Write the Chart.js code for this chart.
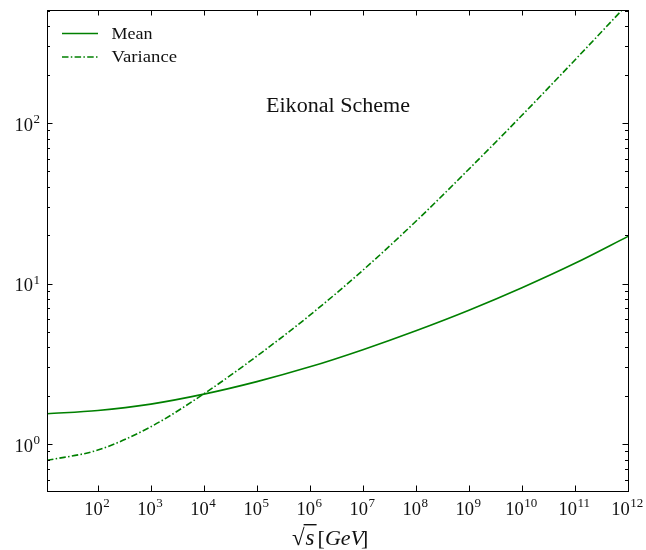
<!DOCTYPE html>
<html>
<head>
<meta charset="utf-8">
<script src="https://cdn.jsdelivr.net/npm/chart.js@4/dist/chart.umd.min.js"></script>
<style>
  html, body { margin: 0; padding: 0; background: #fff; }
  #wrap { width: 646px; height: 550px; }
</style>
</head>
<body>
<div id="wrap"><canvas id="c" width="646" height="550"></canvas></div>
<script>
// sqrt(s) in GeV
const energies = [11, 1e2, 1e3, 1e4, 1e5, 1e6, 1e7, 1e8, 1e9, 1e10, 1e11, 1e12];
// Eikonal scheme: mean and variance of the distribution
const meanValues = [1.545, 1.618, 1.774, 2.046, 2.449, 3.027, 3.873, 5.082, 6.823, 9.419, 13.37, 19.68];
const varianceValues = [0.791, 0.918, 1.282, 2.056, 3.532, 6.353, 12.11, 24.43, 51.64, 111.7, 247.2, 553.4];
// decade ticks (exponents of ten)
const xTickExponents = [2, 3, 4, 5, 6, 7, 8, 9, 10, 11, 12];
const yTickExponents = [0, 1, 2];
const seriesNames = ['Mean', 'Variance'];
const annotationText = 'Eikonal Scheme';

const GREEN = '#008000';
const SERIF = '"Liberation Serif", "DejaVu Serif", serif';
const VAR_DASH = [6.5, 2.3, 1.5, 2.3];

function toPoints(xs, ys) { return xs.map((x, i) => ({ x: x, y: ys[i] })); }

function drawPow(ctx, exp, x, baseline, align) {
  ctx.font = '18.5px ' + SERIF;
  const wb = ctx.measureText('10').width;
  ctx.font = '13px ' + SERIF;
  const we = ctx.measureText(String(exp)).width;
  const total = wb + we;
  let left = align === 'right' ? x - total : x - total / 2;
  ctx.textAlign = 'left';
  ctx.textBaseline = 'alphabetic';
  ctx.font = '18.5px ' + SERIF;
  ctx.fillText('10', left, baseline);
  ctx.font = '13px ' + SERIF;
  ctx.fillText(String(exp), left + wb + 0.5, baseline - 7.7);
}

// draw text stretched horizontally to a given width
function fitText(ctx, text, font, x, baseline, width) {
  ctx.font = font;
  const w = ctx.measureText(text).width;
  ctx.save();
  ctx.translate(x, baseline);
  ctx.scale(width / w, 1);
  ctx.fillText(text, 0, 0);
  ctx.restore();
}

const framePlugin = {
  id: 'frameAndLabels',
  afterDraw(chart) {
    const ctx = chart.ctx;
    const a = chart.chartArea;
    const xs = chart.scales.x, ys = chart.scales.y;
    ctx.save();
    ctx.fillStyle = '#000';
    ctx.strokeStyle = '#000';
    ctx.lineWidth = 1;

    // frame
    ctx.strokeRect(Math.round(a.left) + 0.5, Math.round(a.top) + 0.5,
                   Math.round(a.right - a.left), Math.round(a.bottom - a.top));

    // x decade ticks (inward, bottom and top)
    ctx.beginPath();
    xTickExponents.forEach(e => {
      const px = Math.round(xs.getPixelForValue(Math.pow(10, e))) + 0.5;
      if (px < a.left || px > a.right + 1) return;
      ctx.moveTo(px, a.bottom); ctx.lineTo(px, a.bottom - 5.5);
      ctx.moveTo(px, a.top); ctx.lineTo(px, a.top + 5.5);
    });
    // y ticks: majors and minors (inward, left and right)
    for (let d = -1; d <= 3; d++) {
      for (let m = 1; m <= 9; m++) {
        const v = m * Math.pow(10, d);
        if (v < ys.min || v > ys.max) continue;
        const py = Math.round(ys.getPixelForValue(v)) + 0.5;
        const len = m === 1 ? 5.5 : 3;
        ctx.moveTo(a.left, py); ctx.lineTo(a.left + len, py);
        ctx.moveTo(a.right, py); ctx.lineTo(a.right - len, py);
      }
    }
    ctx.stroke();

    // tick labels
    ctx.fillStyle = '#111';
    xTickExponents.forEach(e => {
      const px = xs.getPixelForValue(Math.pow(10, e));
      drawPow(ctx, e, px - 1, a.bottom + 24, 'center');
    });
    yTickExponents.forEach(e => {
      const py = ys.getPixelForValue(Math.pow(10, e));
      drawPow(ctx, e, 39.5, py + 7.7, 'right');
    });

    // x axis title: sqrt(s) [GeV]
    ctx.textBaseline = 'alphabetic';
    ctx.textAlign = 'left';
    let tx = 292, tb = 545;
    ctx.font = '23px ' + SERIF;
    ctx.fillText('\u221A', tx, tb);
    const wr = ctx.measureText('\u221A').width;
    ctx.font = 'italic 23px ' + SERIF;
    const sx = tx + wr + 1;
    ctx.fillText('s', sx, tb);
    const ws = ctx.measureText('s').width;
    ctx.fillRect(tx + wr - 1, tb - 21, ws + 4, 1.4);
    let cx = sx + ws + 3;
    ctx.font = '22px ' + SERIF;
    ctx.fillText('[', cx, tb);
    cx += ctx.measureText('[').width;
    ctx.font = 'italic 22px ' + SERIF;
    ctx.fillText('GeV', cx, tb);
    cx += ctx.measureText('GeV').width - 3;
    ctx.font = '22px ' + SERIF;
    ctx.fillText(']', cx, tb);

    // annotation
    fitText(ctx, annotationText, '20px ' + SERIF, 266, 112, 144);

    // legend
    const rows = [{ y: 33.5, dash: [], w: 41 }, { y: 57, dash: VAR_DASH, w: 65.5 }];
    rows.forEach((r, i) => {
      ctx.strokeStyle = GREEN;
      ctx.lineWidth = 1.6;
      ctx.setLineDash(r.dash);
      ctx.beginPath();
      ctx.moveTo(62, r.y); ctx.lineTo(98, r.y);
      ctx.stroke();
      ctx.setLineDash([]);
      ctx.fillStyle = '#111';
      fitText(ctx, seriesNames[i], '16.5px ' + SERIF, 111.5, r.y + 5, r.w);
    });
    ctx.restore();
  }
};

new Chart(document.getElementById('c'), {
  type: 'line',
  data: {
    datasets: [
      {
        label: seriesNames[0],
        data: toPoints(energies, meanValues),
        borderColor: GREEN,
        borderWidth: 1.6,
        pointRadius: 0,
        cubicInterpolationMode: 'monotone',
        fill: false
      },
      {
        label: seriesNames[1],
        data: toPoints(energies, varianceValues),
        borderColor: GREEN,
        borderWidth: 1.6,
        borderDash: VAR_DASH,
        pointRadius: 0,
        cubicInterpolationMode: 'monotone',
        fill: false
      }
    ]
  },
  options: {
    responsive: false,
    animation: false,
    devicePixelRatio: 1,
    layout: { padding: { top: 10, right: 18, left: 0, bottom: 0 } },
    plugins: { legend: { display: false }, tooltip: { enabled: false } },
    scales: {
      x: {
        type: 'logarithmic',
        min: 11, max: 1e12,
        ticks: { display: false },
        grid: { display: false },
        border: { display: false },
        afterFit(s) { s.height = 59; }
      },
      y: {
        type: 'logarithmic',
        min: 0.51, max: 506,
        ticks: { display: false },
        grid: { display: false },
        border: { display: false },
        afterFit(s) { s.width = 47; }
      }
    }
  },
  plugins: [framePlugin]
});
</script>
</body>
</html>
